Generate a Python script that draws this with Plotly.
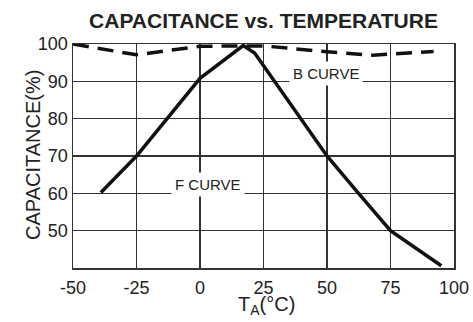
import plotly.graph_objects as go

# F curve (solid)
f_temp = [-39, -25, 0, 17, 21.5, 50, 62, 75, 95]
f_cap = [60.2, 70, 90.8, 99.6, 97.6, 70, 60.3, 50, 40.6]

# B curve (dashed)
b_temp = [-50, -25, 0, 25, 50, 68, 75, 92]
b_cap = [100, 97.1, 99.4, 99.5, 97.9, 97.0, 97.3, 98.0]

x_ticks = [-50, -25, 0, 25, 50, 75, 100]
y_ticks = [50, 60, 70, 80, 90, 100]

FONT = "Liberation Sans, Arial, sans-serif"
TXT = "#222"

W, H = 473, 322
L, R, T, B = 73, 19, 44, 54
PW, PH = W - L - R, H - T - B


def px(xpage):
    return (xpage - L) / PW


def py(ypage):
    return (H - B - ypage) / PH


fig = go.Figure()
fig.add_trace(go.Scatter(x=b_temp, y=b_cap, mode="lines",
                         line=dict(color="#111", width=3.5, dash="16px,9px"),
                         showlegend=False, cliponaxis=False))
fig.add_trace(go.Scatter(x=f_temp, y=f_cap, mode="lines",
                         line=dict(color="#111", width=3.5),
                         showlegend=False, cliponaxis=False))

fig.add_annotation(x=49.5, y=92.2, text="B CURVE", showarrow=False,
                   font=dict(family=FONT, size=15, color=TXT),
                   bgcolor="white", borderpad=3)
fig.add_annotation(x=3.2, y=62.5, text="F CURVE", showarrow=False,
                   font=dict(family=FONT, size=15, color=TXT),
                   bgcolor="white", borderpad=3)

# axis titles
fig.add_annotation(x=px(266), xref="paper", y=py(305), yref="paper", yanchor="middle",
                   text="T<sub>A</sub>(°C)", showarrow=False,
                   font=dict(family=FONT, size=20, color=TXT))
fig.add_annotation(x=px(20), xref="paper", y=py(155), yref="paper", textangle=-90,
                   text="CAPACITANCE(%)", showarrow=False,
                   font=dict(family=FONT, size=20, color=TXT))

fig.update_layout(
    width=W, height=H,
    margin=dict(l=L, r=R, t=T, b=B),
    paper_bgcolor="white", plot_bgcolor="white",
    title=dict(text="<b>CAPACITANCE vs. TEMPERATURE</b>", x=263.5 / W, xanchor="center",
               y=1 - 21 / H, yanchor="middle",
               font=dict(family=FONT, size=21, color=TXT)),
    font=dict(family=FONT, color=TXT),
)
fig.update_xaxes(range=[-50, 100], tickvals=x_ticks, ticktext=[str(v) for v in x_ticks],
                 showgrid=True, gridcolor="#333", gridwidth=1.5,
                 showline=True, linecolor="#333", linewidth=1.5, mirror=True,
                 zeroline=False, ticks="", tickfont=dict(size=18, color=TXT),
                 ticklabelstandoff=3, automargin=False)
fig.update_yaxes(range=[40, 100], tickvals=y_ticks, ticktext=[str(v) for v in y_ticks],
                 showgrid=True, gridcolor="#333", gridwidth=1.5,
                 showline=True, linecolor="#333", linewidth=1.5, mirror=True,
                 zeroline=False, ticks="", tickfont=dict(size=18, color=TXT),
                 automargin=False)

fig.write_html(
    "out.html",
    config={"displayModeBar": False, "staticPlot": True},
    post_script="document.body.style.margin='0';"
                "document.documentElement.style.overflow='hidden';"
                "document.body.style.overflow='hidden';",
)
